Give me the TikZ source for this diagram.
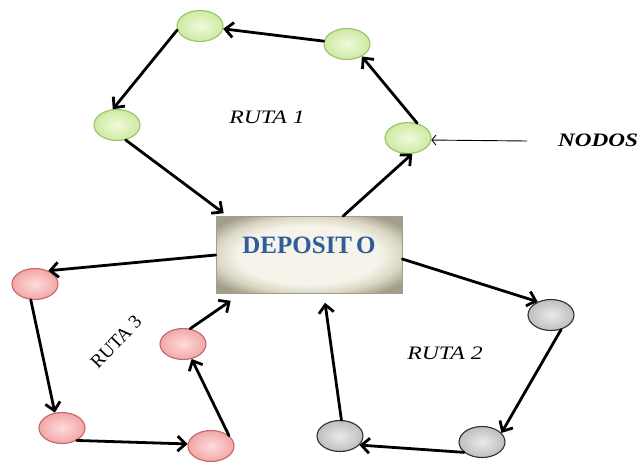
\documentclass[tikz,border=0pt]{standalone}
\usepackage{fontspec}
\setmainfont{Liberation Serif}
\usetikzlibrary{arrows.meta,shapes.geometric}

\definecolor{greenin}{HTML}{F0FADC}
\definecolor{greenout}{HTML}{CDEAA2}
\definecolor{greenline}{HTML}{96C466}
\definecolor{redin}{HTML}{FDDCDC}
\definecolor{redout}{HTML}{F3A6A6}
\definecolor{redline}{HTML}{C26868}
\definecolor{grayin}{HTML}{EAEAEA}
\definecolor{grayout}{HTML}{BEBEBE}
\definecolor{grayline}{HTML}{303030}
\definecolor{boxin}{HTML}{F6F4EA}
\definecolor{boxmid}{HTML}{DAD7C5}
\definecolor{boxout}{HTML}{A29E89}
\definecolor{depotblue}{HTML}{2F5C9C}

% soft cream centre fading to grey-olive edges
\pgfdeclareradialshading{depotshade}{\pgfpoint{0bp}{0bp}}{%
  color(0bp)=(boxin); color(19bp)=(boxin); color(25bp)=(boxmid);
  color(31bp)=(boxout); color(50bp)=(boxout)}

\tikzset{
  stop/.style={ellipse, minimum width=46pt, minimum height=31pt, inner sep=0pt, line width=1.1pt},
  greenstop/.style={stop, draw=greenline, inner color=greenin, outer color=greenout},
  redstop/.style={stop, draw=redline, inner color=redin, outer color=redout},
  graystop/.style={stop, draw=grayline, inner color=grayin, outer color=grayout},
  depot/.style={rectangle, minimum width=186pt, minimum height=77pt, inner sep=0pt,
    shading=depotshade, draw=boxout, line width=0.6pt,
    text=depotblue, font=\fontsize{25}{30}\selectfont\bfseries,
    text height=17pt, text depth=20pt},
  route/.style={line width=2.8pt, line cap=round,
    -{Straight Barb[length=8pt,width=15pt]}},
  pointer/.style={line width=0.9pt, -{Straight Barb[length=4pt,width=10pt]}},
  routelabel/.style={inner sep=0pt, font=\fontsize{19}{23}\selectfont},
}

\begin{document}
\begin{tikzpicture}[x=1pt,y=-1pt]
\useasboundingbox (0,0) rectangle (644,462);

% depot
\node[depot] (box) at (309,255) {DEPOSIT\kern4pt O};

% route 1 stops
\node[greenstop] (g1) at (200,26) {};
\node[greenstop] (g2) at (347,44) {};
\node[greenstop] (g3) at (117,125) {};
\node[greenstop] (g4) at (408,138) {};

% route 3 stops
\node[redstop] (r1) at (35,284) {};
\node[redstop] (r2) at (183,344) {};
\node[redstop] (r3) at (62,428) {};
\node[redstop] (r4) at (211,446) {};

% route 2 stops
\node[graystop] (y1) at (551,315) {};
\node[graystop] (y2) at (482,442) {};
\node[graystop] (y3) at (340,436) {};

% route labels
\node[routelabel] (lab1) at (267,117) {\scalebox{1.25}[1]{\itshape RUTA 1}};
\node[routelabel] (lab2) at (445,353) {\scalebox{1.25}[1]{\itshape RUTA 2}};
\node[routelabel, font=\fontsize{19}{22}\selectfont, rotate=46] (lab3) at (116,342) {RUTA 3};
\node[routelabel] (nodos) at (598,140) {\scalebox{1.22}[1]{\bfseries\itshape NODOS}};
\coordinate (nodosline) at (527,141);

% route 1
\draw[route] ([xshift=34pt]box.north) -- (g4.-75);
\draw[route] (g4.58) -- (g2.-40);
\draw[route] (g2) -- (g1);
\draw[route] (g1.190) -- (g3.105);
\draw[route] (g3.-60) -- ([shift={(8pt,3pt)}]box.north west);

% route 2
\draw[route] ([yshift=-4pt]box.east) -- (y1.135);
\draw[route] (y1.-55) -- (y2.25);
\draw[route] (y2.-150) -- (y3.-25);
\draw[route] (y3.85) -- ([shift={(16pt,-9pt)}]box.south);

% route 3
\draw[route] (box.west) -- (r1.45);
\draw[route] (r1.-105) -- (r3.115);
\draw[route] (r3.-40) -- (r4.175);
\draw[route] (r4.30) -- (r2.-60);
\draw[route] (r2.65) -- ([shift={(15pt,-7pt)}]box.south west);

% pointer to a stop
\draw[pointer] (nodosline) -- (g4.-5);
\end{tikzpicture}
\end{document}
